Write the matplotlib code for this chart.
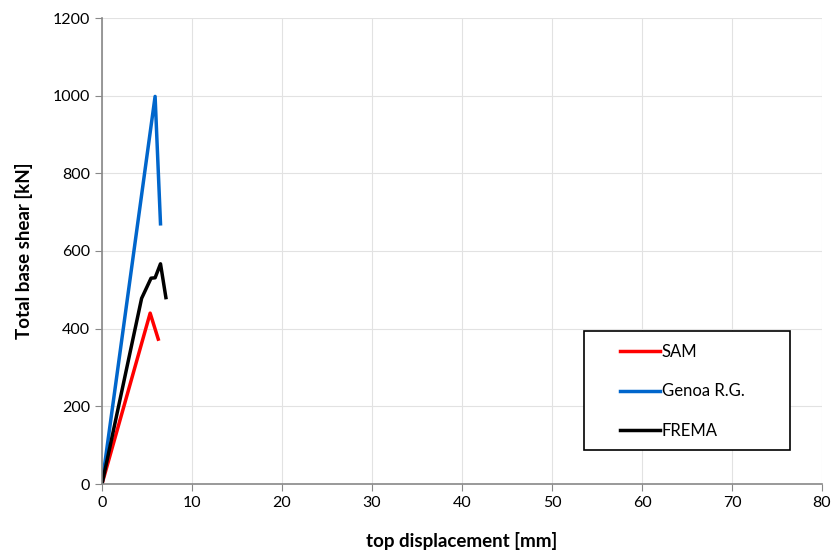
import matplotlib
matplotlib.use('Agg')
import matplotlib.pyplot as plt
from matplotlib.patches import Rectangle

plt.rcParams['font.family'] = ['Lato', 'DejaVu Sans']

# data
sam_x = [0, 5.35, 6.25]
sam_y = [0, 440, 373]
genoa_x = [0, 5.9, 6.5]
genoa_y = [0, 998, 670]
frema_x = [0, 4.4, 5.45, 5.9, 6.5, 7.1]
frema_y = [0, 478, 530, 531, 567, 480]

W, H = 836, 551
fig = plt.figure(figsize=(W/100, H/100), dpi=100)
ax = fig.add_axes([102/W, 1 - 484/H, 720/W, 466/H])

ax.plot(sam_x, sam_y, color='#ff0000', linewidth=2.5, label='SAM')
ax.plot(genoa_x, genoa_y, color='#0066cc', linewidth=2.5, label='Genoa R.G.')
ax.plot(frema_x, frema_y, color='black', linewidth=2.5, label='FREMA')

ax.set_xlim(0, 80)
ax.set_ylim(0, 1200)
ax.set_xticks(range(0, 81, 10))
ax.set_yticks(range(0, 1201, 200))
ax.grid(True, color='#e2e2e2', linewidth=0.8)
ax.set_axisbelow(True)
for s in ['top', 'right']:
    ax.spines[s].set_visible(False)
for s in ['left', 'bottom']:
    ax.spines[s].set_color('#888888')
    ax.spines[s].set_linewidth(1.2)
ax.tick_params(axis='both', labelsize=11.5, color='#888888', length=5, direction='out')

ax.set_xlabel('top displacement [mm]', fontsize=13.5, fontweight='bold', labelpad=16)
ax.set_ylabel('Total base shear [kN]', fontsize=13.5, fontweight='bold', labelpad=14)

# legend box drawn separately, entries indented like the reference
def ax_x(px):
    return (px - 102) / 720

def ax_y(py):
    return (484 - py) / 466

ax.add_patch(Rectangle((ax_x(584), ax_y(450)), (790-584)/720, (450-331)/466,
                       transform=ax.transAxes, fill=True, facecolor='white',
                       edgecolor='black', linewidth=1.2, clip_on=False, zorder=5))
leg = ax.legend(loc='upper left', bbox_to_anchor=(ax_x(620), ax_y(344)),
                fontsize=12, frameon=False, handlelength=2.4, handletextpad=0.1,
                labelspacing=1.4, borderpad=0, borderaxespad=0)
leg.set_zorder(6)

plt.savefig('out.png', dpi=100)
plt.close()
